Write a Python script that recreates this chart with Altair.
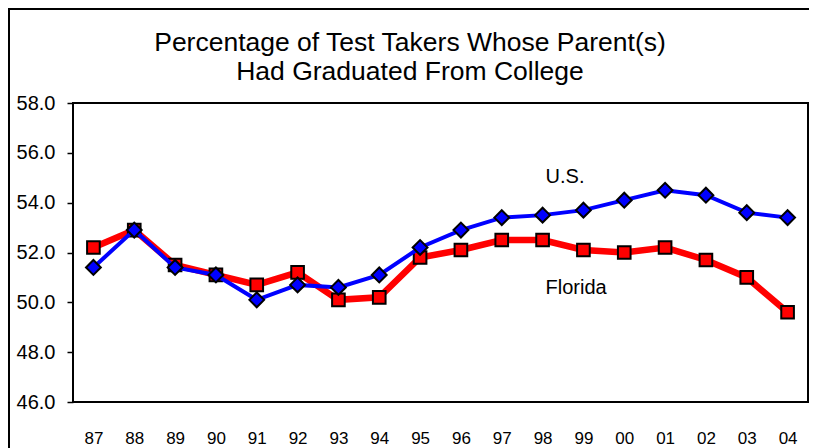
import altair as alt
import pandas as pd

years = ["87", "88", "89", "90", "91", "92", "93", "94", "95", "96",
         "97", "98", "99", "00", "01", "02", "03", "04"]
us = [51.4, 52.9, 51.4, 51.1, 50.1, 50.7, 50.6, 51.1, 52.2, 52.9,
      53.4, 53.5, 53.7, 54.1, 54.5, 54.3, 53.6, 53.4]
florida = [52.2, 52.9, 51.5, 51.1, 50.7, 51.2, 50.1, 50.2, 51.8, 52.1,
           52.5, 52.5, 52.1, 52.0, 52.2, 51.7, 51.0, 49.6]
y_ticks = [46, 48, 50, 52, 54, 56, 58]
title_lines = ["Percentage of Test Takers Whose Parent(s)", "Had Graduated From College"]
label_text = ["U.S.", "Florida"]
label_year = ["98", "98"]
label_value = [54.78, 50.35]

FONT = "Liberation Sans"
W, H = 735, 299

df_us = pd.DataFrame({"year": years, "value": us})
df_fl = pd.DataFrame({"year": years, "value": florida})
df_lab = pd.DataFrame({"year": label_year, "value": label_value, "text": label_text})
df_one = pd.DataFrame({"k": [0]})

x_enc = alt.X("year:O", sort=years, scale=alt.Scale(paddingOuter=0.5),
              axis=alt.Axis(title=None, labelAngle=0, ticks=False, tickSize=0, domain=False,
                            labelFontSize=17, labelFont=FONT, labelColor="black",
                            labelPadding=28))
y_enc = alt.Y("value:Q", scale=alt.Scale(domain=[46, 58], nice=False, zero=False),
              axis=alt.Axis(title=None, values=y_ticks, format=".1f", grid=False, domain=False,
                            tickSize=6, tickColor="black", tickWidth=1.5,
                            labelFontSize=20, labelFont=FONT, labelColor="black",
                            labelPadding=12))

frame = alt.Chart(df_one).mark_rect(fillOpacity=0, stroke="black", strokeWidth=2).encode(
    x=alt.value(0), x2=alt.value(W), y=alt.value(0), y2=alt.value(H))
fl_line = alt.Chart(df_fl).mark_line(color="#FF0000", strokeWidth=6.5).encode(x=x_enc, y=y_enc)
fl_pts = alt.Chart(df_fl).mark_point(shape="square", filled=True, fill="#FF0000",
                                     stroke="black", strokeWidth=2, size=160, opacity=1).encode(x=x_enc, y=y_enc)
us_line = alt.Chart(df_us).mark_line(color="#0000FF", strokeWidth=4).encode(x=x_enc, y=y_enc)
us_pts = alt.Chart(df_us).mark_point(shape="diamond", filled=True, fill="#0000FF",
                                     stroke="black", strokeWidth=2, size=220, opacity=1).encode(x=x_enc, y=y_enc)
labels = alt.Chart(df_lab).mark_text(align="left", baseline="alphabetic", dx=3,
                                     fontSize=20, font=FONT, color="black").encode(
    x=x_enc, y=y_enc, text="text:N")

title1 = alt.Chart(df_one).mark_text(align="center", baseline="middle", fontSize=26.5,
                                     font=FONT, color="black", text=title_lines[0]).encode(
    x=alt.value(337), y=alt.value(-60))
title2 = alt.Chart(df_one).mark_text(align="center", baseline="middle", fontSize=26.5,
                                     font=FONT, color="black", text=title_lines[1]).encode(
    x=alt.value(337), y=alt.value(-31))

border_left = alt.Chart(df_one).mark_rule(color="black", strokeWidth=2).encode(
    x=alt.value(-64), y=alt.value(-94), y2=alt.value(H + 60))
border_top = alt.Chart(df_one).mark_rule(color="black", strokeWidth=2).encode(
    x=alt.value(-65), x2=alt.value(W + 20), y=alt.value(-94))

chart = alt.layer(frame, fl_line, fl_pts, us_line, us_pts, labels, title1, title2,
                  border_left, border_top).properties(
    width=W, height=H,
    background="white",
    autosize=alt.AutoSizeParams(type="none"),
    padding={"left": 65, "top": 95, "right": 1, "bottom": 46},
).configure_view(stroke=None)

chart.save("out.html", embed_options={"renderer": "svg", "actions": False})
